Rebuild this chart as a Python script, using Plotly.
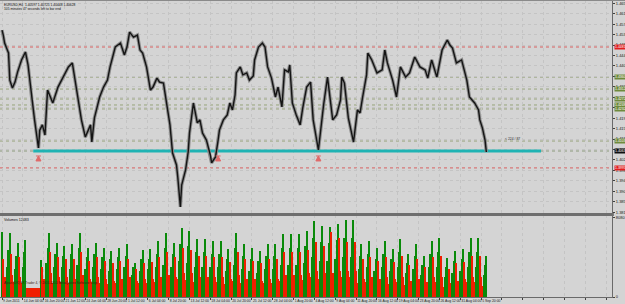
import plotly.graph_objects as go

# ---------------- data ----------------
bar_idx = [0,1,2,5,6,8,10,12,15,18,20,23,25,28,29,31,33,35,39,43,47,51,54,58,61,64,68,69,71,75,78,81,83,87,91,94,96,98,101,104,106,108,111,114,116,119,121,124,127,129,131,134,135,137,138,141,143,144,147,150,152,154,157,160,161,164,166,167,170,173,175,177,179,180,183,185,188,190,193,194,197,200,202,204,207,210,212,215,217,220,221,223,226,229,231,234,237,239,243,245,247,250,252,254,257,260,261,263,266,270,273,275,277,280,281,284,288,292,294,296,300,303,306,310,313,317,321,325,327,330,334,338,342,344,346,349,353,357,359,363,366,367,369,371,372]
close = [1.4549,1.4529,1.4497,1.4457,1.4348,1.4316,1.4340,1.4381,1.4429,1.4461,1.4409,1.4268,1.4188,1.4075,1.4147,1.4168,1.4127,1.4308,1.4256,1.4320,1.4360,1.4401,1.4417,1.4296,1.4188,1.4119,1.4168,1.4099,1.4196,1.4280,1.4320,1.4348,1.4401,1.4481,1.4497,1.4449,1.4481,1.4541,1.4521,1.4529,1.4469,1.4457,1.4401,1.4308,1.4320,1.4356,1.4340,1.4336,1.4228,1.4168,1.4055,1.4007,1.3958,1.3838,1.3926,1.3987,1.4059,1.4135,1.4256,1.4176,1.4188,1.4135,1.4107,1.4047,1.4015,1.4039,1.4107,1.4147,1.4188,1.4208,1.4256,1.4228,1.4288,1.4377,1.4401,1.4369,1.4377,1.4348,1.4365,1.4429,1.4481,1.4497,1.4481,1.4401,1.4356,1.4280,1.4320,1.4240,1.4389,1.4381,1.4409,1.4256,1.4208,1.4168,1.4236,1.4320,1.4340,1.4188,1.4067,1.4168,1.4248,1.4360,1.4280,1.4188,1.4208,1.4268,1.4360,1.4336,1.4196,1.4099,1.4228,1.4216,1.4280,1.4369,1.4457,1.4429,1.4377,1.4389,1.4469,1.4417,1.4348,1.4280,1.4401,1.4360,1.4377,1.4441,1.4401,1.4389,1.4356,1.4429,1.4360,1.4469,1.4509,1.4489,1.4477,1.4417,1.4429,1.4348,1.4280,1.4256,1.4228,1.4188,1.4155,1.4107,1.4059]

x_tick_labels = ["9 Jun 2011","14 Jun 04:00","16 Jun 20:00","21 Jun 12:00","24 Jun 04:00","28 Jun 20:00",
                 "1 Jul 12:00","6 Jul 04:00","8 Jul 20:00","13 Jul 12:00","18 Jul 04:00","20 Jul 20:00",
                 "25 Jul 12:00","28 Jul 04:00","1 Aug 20:00","4 Aug 12:00","9 Aug 04:00","11 Aug 20:00",
                 "16 Aug 12:00","19 Aug 04:00","23 Aug 20:00","26 Aug 12:00","31 Aug 04:00","5 Sep 20:00"]

# horizontal levels (price, kind)
level_prices = [1.4481, 1.4360, 1.4312, 1.4272, 1.4248, 1.4232, 1.4103, 1.4063, 1.3995]
level_kinds  = ["red", "olive", "olive", "olive", "olive", "olive", "olive", "black", "red"]
trend_price = 1.4063
trend_bars = [24, 414]
arrow_bars = [28, 166, 243]
arrow_prices = [1.4043, 1.4043, 1.4043]

# volumes per trading day (H4 bars), in ticks/100
volumes_by_day = [
 [66,38,20],
 [14,30,48,65,44,22],[15,28,42,55,40,20],[14,30,46,58,9,9],[9,9,9,9,9,9],[9,9,9,37,30,18],
 [16,34,50,65,46,24],[14,30,44,55,40,20],[15,30,42,52,38,20],[14,28,44,54,38,18],[16,32,50,65,46,22],
 [14,28,40,50,36,18],[15,30,44,55,40,20],[14,28,40,50,36,18],[13,26,38,47,34,16],[14,28,40,50,36,18],
 [15,30,42,54,38,20],[12,22,30,34,28,16],[14,26,38,48,34,18],[14,28,38,49,35,18],[15,30,44,57,40,20],
 [16,32,50,65,46,22],[15,30,44,55,40,20],[18,36,54,70,50,24],[17,34,52,67,48,24],[15,30,46,59,42,20],
 [15,30,46,59,42,20],[15,30,44,57,40,20],[15,30,44,57,40,20],[13,26,38,49,35,18],[16,32,50,65,46,22],
 [14,28,42,54,38,18],[13,26,38,50,36,18],[12,24,36,47,34,16],[14,28,42,54,38,18],[14,28,42,54,38,18],
 [16,32,50,64,46,22],[16,32,50,64,46,22],[16,32,50,64,46,22],[17,34,52,67,48,24],[20,40,60,77,56,26],
 [18,36,56,72,52,24],[18,36,55,71,66,24],[19,38,58,74,60,26],[20,40,60,78,56,26],[20,40,60,78,56,26],
 [14,28,42,54,38,18],[15,30,44,57,40,20],[13,26,38,50,36,18],[15,30,44,57,40,20],[13,26,38,49,35,18],
 [15,30,46,59,42,20],[12,24,34,44,32,16],[14,28,42,54,38,18],[11,22,32,42,30,15],[15,30,44,57,40,20],
 [15,30,46,60,42,20],[10,20,30,39,28,14],[12,24,36,47,34,16],[13,26,38,49,35,18],[15,30,46,60,42,20],
 [15,30,46,60,42,20],
 [11,22,32,42],
]
volume_label = "Volumes 12483"
volume_axis_max_label = 8080

# ---------------- styling ----------------
BG = "#d4d4d4"
GRID = "#c4c4c4"
FRAME = "#6a6a6a"
GREEN = "#0a8a0a"
RED = "#f01e00"
CYAN = "#1fb3b3"
FONT = "Liberation Sans, Arial, sans-serif"

W, H = 625, 304
ML, MR, MT, MB = 0, 13, 0, 7
PH = H - MT - MB           # 297 px plot height
PW = W - ML - MR           # 612 px plot width
price_dom = [1 - 213 / PH, 1]
vol_dom = [0, 82 / PH]

px_per_bar = 1.302
x_left = -2 / px_per_bar
x_right = x_left + PW / px_per_bar

price_top = 1.4670
price_per_px = 0.000402
price_bottom = price_top - 213 * price_per_px

volumes = [v * 100 for day in volumes_by_day for v in day]
vol_bars = list(range(len(volumes)))
vol_colors = [GREEN] + [GREEN if volumes[i] > volumes[i - 1] else RED for i in range(1, len(volumes))]

tickvals = list(range(0, int(x_right) + 1, 16))
ticktext = [x_tick_labels[i] if i < len(x_tick_labels) else "" for i in range(len(tickvals))]

fig = go.Figure()

# horizontal dotted levels
level_line_colors = {"red": "#d86060", "olive": "#98a47c", "black": "#8c9a7c"}
for p, k in zip(level_prices, level_kinds):
    fig.add_shape(type="line", xref="paper", yref="y", x0=0, x1=1, y0=p, y1=p,
                  line=dict(color=level_line_colors[k], width=1, dash="dot"), layer="below")

# cyan trend line
fig.add_trace(go.Scatter(x=trend_bars, y=[trend_price, trend_price], mode="lines",
                         line=dict(color=CYAN, width=3), hoverinfo="skip", showlegend=False,
                         xaxis="x", yaxis="y"))

# price: grey bar-range underlay + dark close line
fig.add_trace(go.Scatter(x=bar_idx, y=close, mode="lines",
                         line=dict(color="#8c8c8c", width=3.4), hoverinfo="skip", showlegend=False,
                         xaxis="x", yaxis="y"))
fig.add_trace(go.Scatter(x=bar_idx, y=close, mode="lines",
                         line=dict(color="#141414", width=1.4), showlegend=False,
                         xaxis="x", yaxis="y"))

# arrows
fig.add_trace(go.Scatter(x=arrow_bars, y=arrow_prices, mode="markers",
                         marker=dict(symbol="arrow-bar-up", size=5, color="#e06a6a",
                                     line=dict(color="#e06a6a", width=1)),
                         showlegend=False, xaxis="x", yaxis="y"))

# volume bars
fig.add_trace(go.Bar(x=vol_bars, y=volumes, marker=dict(color=vol_colors, line=dict(width=0)),
                     width=0.85, showlegend=False, xaxis="x2", yaxis="y2"))

axis_font = dict(family=FONT, size=4, color="#202020")

fig.update_layout(
    width=W, height=H,
    margin=dict(l=ML, r=MR, t=MT, b=MB, autoexpand=False),
    paper_bgcolor=BG, plot_bgcolor=BG,
    bargap=0,
    font=dict(family=FONT, size=4, color="#202020"),
    xaxis=dict(domain=[0, 1], anchor="y", range=[x_left, x_right],
               tickvals=tickvals, showticklabels=False, ticks="",
               showgrid=True, gridcolor=GRID, griddash="dot", gridwidth=1,
               zeroline=False, showline=False, automargin=False),
    yaxis=dict(domain=price_dom, anchor="x", side="right", range=[price_bottom, price_top],
               tick0=1.4657, dtick=0.0042, tickformat=".5f", ticks="outside", ticklen=2,
               tickcolor="#404040", tickfont=axis_font, automargin=False,
               showgrid=True, gridcolor=GRID, griddash="dot", gridwidth=1,
               zeroline=False, showline=True, linecolor=FRAME, linewidth=1),
    xaxis2=dict(domain=[0, 1], anchor="y2", matches="x", range=[x_left, x_right],
                tickvals=tickvals, ticktext=ticktext, ticks="outside", ticklen=2,
                tickcolor="#404040", ticklabelposition="outside right", tickangle=0,
                tickfont=dict(family=FONT, size=3.4, color="#202020"), automargin=False,
                showgrid=True, gridcolor=GRID, griddash="dot", gridwidth=1,
                zeroline=False, showline=True, linecolor=FRAME, linewidth=1),
    yaxis2=dict(domain=vol_dom, anchor="x2", side="right", range=[0, 8300],
                tickvals=[0, volume_axis_max_label], ticks="outside", ticklen=2,
                tickcolor="#404040", tickfont=axis_font, showgrid=False, automargin=False,
                zeroline=False, showline=True, linecolor=FRAME, linewidth=1),
)

# separator between panels and top frame
fig.add_shape(type="line", xref="paper", yref="paper", x0=0, x1=1.003,
              y0=price_dom[0] - 1.5 / PH, y1=price_dom[0] - 1.5 / PH,
              line=dict(color="#6e6e6e", width=3))
fig.add_shape(type="line", xref="paper", yref="paper", x0=0, x1=1.03, y0=1, y1=1,
              line=dict(color="#8a8a8a", width=2))

# level price boxes on the right scale
box_bg = {"red": "#e01e1e", "olive": "#6f8a3c", "black": "#101010"}
for p, k in zip(level_prices, level_kinds):
    fig.add_annotation(xref="paper", yref="y", x=1.003, y=p, xanchor="left", yanchor="middle",
                       text=f"{p:.5f}", showarrow=False, bgcolor=box_bg[k], borderpad=0,
                       font=dict(family=FONT, size=3.5, color="#ffffff"))

# texts
fig.add_annotation(xref="paper", yref="paper", x=0.004, y=0.998, xanchor="left", yanchor="top",
                   text="EURUSD,H4  1.40597 1.40725 1.40448 1.40628<br>105 minutes 47 seconds left to bar end",
                   showarrow=False, align="left", font=dict(family=FONT, size=3.3, color="#101010"))
fig.add_annotation(xref="paper", yref="paper", x=0.004, y=vol_dom[1] - 0.004, xanchor="left", yanchor="top",
                   text=volume_label, showarrow=False, font=dict(family=FONT, size=3.6, color="#101010"))
fig.add_annotation(xref="paper", yref="paper", x=0.004, y=0.035, xanchor="left", yanchor="bottom",
                   text="Alpari (UK) FX Trader 4, © 2001-2010 MetaQuotes Software Corp.",
                   showarrow=False, font=dict(family=FONT, size=3.2, color="#3a1a10"))
fig.add_annotation(xref="x", yref="y", x=385, y=1.4110, xanchor="left", yanchor="middle",
                   text="&lt; 224 / 87", showarrow=False, font=dict(family=FONT, size=3.4, color="#303030"))

fig.write_html("out.html")
